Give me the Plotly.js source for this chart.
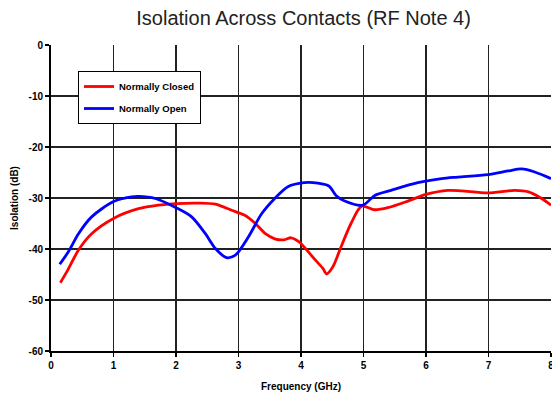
<!DOCTYPE html>
<html><head><meta charset="utf-8">
<script src="https://cdn.plot.ly/plotly-3.0.1.min.js"></script>
<style>body{margin:0;padding:0;background:#fff}#c{width:552px;height:395px}</style>
</head><body><div id="c"></div>
<script>
const ncFreq = [0.15,0.27,0.44,0.65,1.0,1.4,1.72,2.0,2.36,2.63,2.89,3.1,3.27,3.43,3.58,3.73,3.84,3.97,4.05,4.21,4.35,4.41,4.51,4.64,4.80,4.97,5.18,5.39,5.71,6.0,6.35,6.57,6.99,7.42,7.64,7.85,8.0];
const ncIso  = [-46.6,-44.1,-40.2,-37.0,-34.0,-32.1,-31.4,-31.1,-31.0,-31.2,-32.4,-33.4,-35.0,-37.0,-38.0,-38.2,-37.8,-38.6,-39.6,-41.9,-43.8,-44.9,-43.5,-39.6,-35.0,-31.6,-32.3,-31.9,-30.6,-29.3,-28.5,-28.6,-29.0,-28.5,-28.8,-30.1,-31.4];
const noFreq = [0.14,0.28,0.44,0.65,1.0,1.29,1.4,1.67,2.0,2.25,2.47,2.63,2.81,2.95,3.16,3.37,3.58,3.79,4.05,4.27,4.45,4.56,4.70,4.99,5.18,5.44,5.87,6.25,6.51,6.99,7.31,7.53,7.74,8.0];
const noIso  = [-43.0,-40.5,-37.0,-33.7,-30.7,-29.8,-29.7,-30.1,-31.9,-33.7,-37.0,-39.9,-41.7,-41.2,-37.6,-33.1,-30.1,-27.8,-27.0,-27.1,-27.7,-29.5,-30.6,-31.4,-29.5,-28.5,-27.0,-26.2,-25.9,-25.4,-24.7,-24.3,-24.9,-26.2];
const xTicks = [0,1,2,3,4,5,6,7,8];
const yTicks = [0,-10,-20,-30,-40,-50,-60];

const F = 'Liberation Sans, Arial, sans-serif';
const traces = [
  {x: ncFreq, y: ncIso, name: '<b>Normally Closed</b>', legendgroup: 'nc', mode: 'lines', line: {color: '#ff0000', width: 2.8, shape: 'spline', smoothing: 0.8}},
  {x: noFreq, y: noIso, name: '<b>Normally Open</b>', legendgroup: 'no', mode: 'lines', line: {color: '#0000ff', width: 2.8, shape: 'spline', smoothing: 0.8}}
];
const layout = {
  width: 552, height: 395,
  margin: {l: 51, r: 1, t: 45, b: 44},
  paper_bgcolor: '#fff', plot_bgcolor: '#fff',
  font: {family: F, color: '#000'},
  title: {text: 'Isolation Across Contacts (RF Note 4)', font: {family: F, size: 20, color: '#222'}, x: 0.55, xanchor: 'center', y: 0.955, yanchor: 'middle'},
  xaxis: {range: [0, 8], tickvals: xTicks, ticktext: xTicks.map(v => '<b>' + v + '</b>'), showgrid: true, gridcolor: '#222', gridwidth: 1.5,
    zeroline: false, showline: true, linecolor: '#000', linewidth: 2, ticks: 'outside', ticklen: 4, tickwidth: 1.5, tickcolor: '#000',
    ticklabeloverflow: 'allow', automargin: false,
    tickfont: {family: F, size: 10, color: '#000'},
    title: {text: '<b>Frequency (GHz)</b>', font: {family: F, size: 10, color: '#000'}, standoff: 13}},
  yaxis: {range: [-60, 0], tickvals: yTicks, ticktext: yTicks.map(v => '<b>' + v + '</b>'), showgrid: true, gridcolor: '#222', gridwidth: 1.5,
    zeroline: false, showline: true, linecolor: '#000', linewidth: 2, ticks: 'outside', ticklen: 4, tickwidth: 1.5, tickcolor: '#000',
    automargin: false,
    tickfont: {family: F, size: 10, color: '#000'},
    title: {text: '<b>Isolation (dB)</b>', font: {family: F, size: 10, color: '#000'}, standoff: 8}},
  showlegend: true,
  legend: {x: 0.054, y: 0.915, xanchor: 'left', yanchor: 'top', bgcolor: '#fff', bordercolor: '#000', borderwidth: 1,
    font: {family: F, size: 9.5, color: '#000'}, itemwidth: 30, tracegroupgap: 3}
};
Plotly.newPlot('c', traces, layout, {staticPlot: true, displayModeBar: false});
</script></body></html>
